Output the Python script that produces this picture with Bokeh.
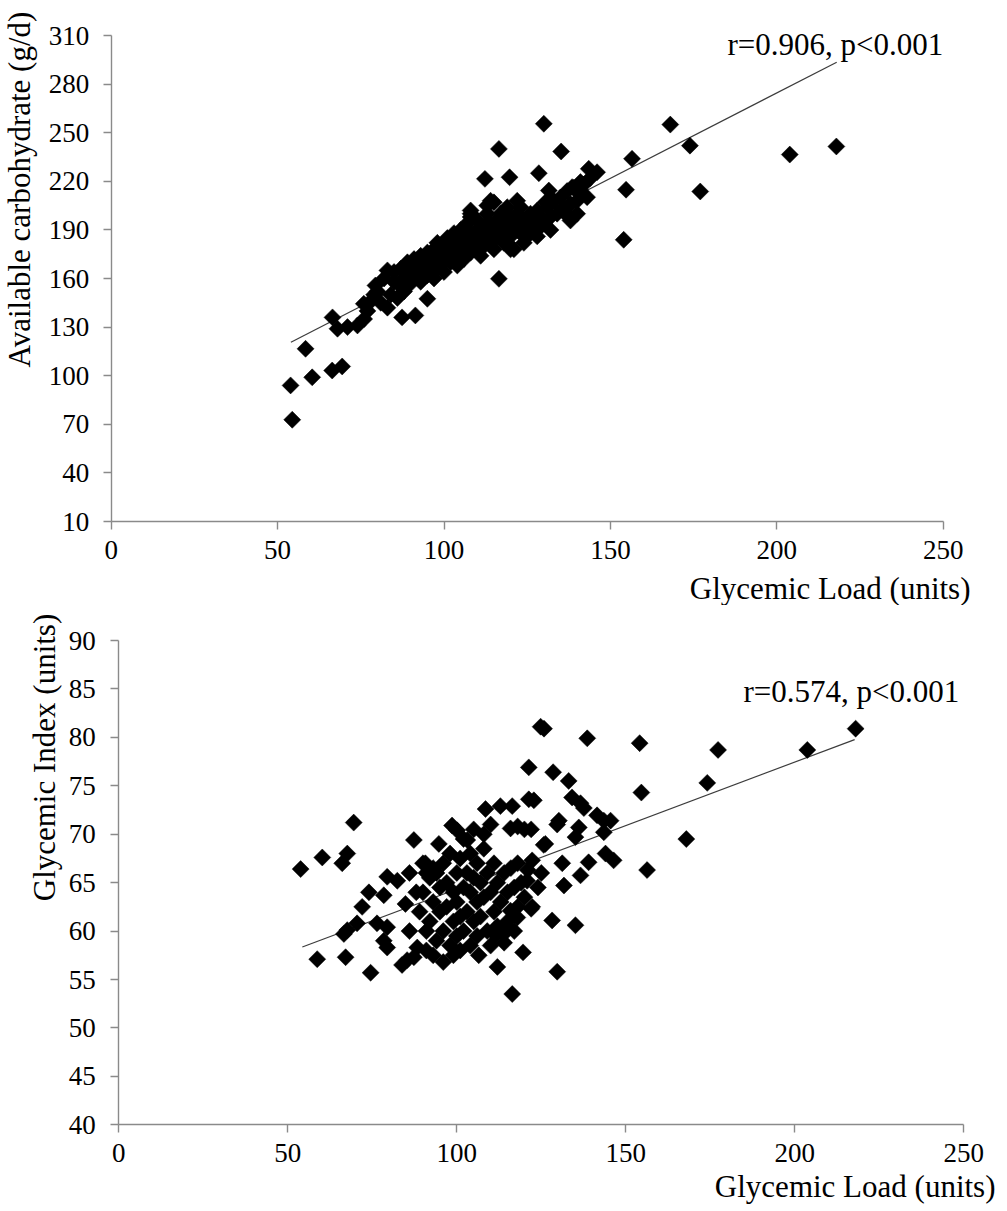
import math
from bokeh.plotting import figure
from bokeh.layouts import column
from bokeh.models import Label, FixedTicker, Range1d
from bokeh.embed import file_html
from bokeh.resources import INLINE

# ---------------- data: top panel (Glycemic load vs available carbohydrate)
gl_top = [54.4, 53.9, 60.4, 58.4, 66.4, 69.4, 66.5, 68.0, 71.0, 74.0, 76.0, 75.9, 79.4, 83.0, 87.4, 91.4, 95.0,
          77, 78, 79, 80, 81, 82, 83, 84, 85, 85, 86, 87, 87, 88, 88, 89, 89, 90, 90, 91, 91, 92, 92, 93, 93,
          94, 94, 95, 95, 96, 96, 97, 97, 98, 98, 98, 99, 99, 100, 100, 100, 101, 101, 102, 102, 103, 103,
          104, 104, 104, 105, 105, 106, 106, 106, 107, 107, 108, 108, 108, 109, 109, 110, 110, 110, 111, 111,
          112, 112, 113, 113, 114, 114, 115, 115, 116, 116, 117, 117, 118, 118, 119, 119, 120, 120, 121, 121,
          122, 122, 123, 124, 124, 125, 126, 126, 127, 128, 128, 129, 130, 131, 132, 133, 134, 135, 136, 137,
          138, 139, 140, 141, 142, 144, 140, 120, 124, 128, 132, 113, 115, 108,
          130.0, 116.5, 135.2, 156.5, 143.5, 146.0, 112.3, 119.7, 128.5, 154.7, 154.0, 116.5, 131.5, 143.0,
          138.0, 108.0, 114.0, 122.0, 168.0, 173.9, 203.9, 217.9, 177.0, 130.5, 138.5, 141.0, 136.5]
carb = [72.8, 94.0, 99.0, 116.6, 103.2, 105.7, 136.0, 129.0, 130.0, 131.0, 135.0, 144.4, 155.7, 142.0, 136.0, 137.2, 147.5,
        140, 146, 150, 152, 145, 160, 165, 150, 158, 164, 148, 155, 166, 160, 152, 163, 170, 157, 166, 160, 172, 163, 168, 158, 174,
        165, 170, 162, 176, 168, 173, 160, 178, 166, 171, 182, 175, 168, 172, 179, 164, 176, 185, 170, 180, 174, 188,
        178, 183, 168, 176, 190, 180, 186, 172, 182, 194, 176, 188, 200, 184, 178, 190, 182, 196, 186, 174,
        192, 180, 188, 200, 184, 194, 190, 178, 196, 186, 200, 192, 182, 196, 190, 204, 186, 198, 194, 178,
        200, 190, 204, 186, 196, 192, 200, 188, 196, 202, 190, 198, 194, 204, 198, 208, 200, 210, 204, 214,
        206, 216, 208, 212, 218, 222, 200, 178, 182, 186, 190, 205, 207, 198,
        255.5, 240.0, 238.4, 233.9, 227.7, 225.6, 221.5, 222.5, 225.0, 214.8, 183.9, 159.8, 214.3, 210.2,
        195.8, 202.0, 208.0, 208.0, 255.0, 242.0, 236.5, 241.5, 213.7, 207.0, 216.4, 219.5, 200.0]
trend_top_x = [54.0, 218.0]
trend_top_y = [120.7, 293.5]

# ---------------- data: bottom panel (Glycemic load vs glycemic index)
gl_bot = [218.0, 203.7, 177.3, 174.1, 167.9, 156.3, 154.1, 154.6, 138.6, 124.8, 125.8, 121.3, 128.5, 133.1,
          121.3, 122.8, 134.1, 136.6, 137.6, 141.5, 143.5, 145.5, 143.5, 130.2, 129.7, 136.1, 135.1, 126.2,
          125.7, 122.3, 131.2, 139.0, 136.6, 131.7, 144.0, 146.4, 135.1, 128.2, 129.7, 119.6, 116.4, 112.0,
          106.5,
          53.8, 60.2, 66.1, 67.6, 69.5, 58.7, 67.1, 74.5, 66.6, 67.6, 70.5, 72.0, 74.0, 76.4, 78.4, 79.4,
          82.4, 79.4, 78.4, 79.4, 84.8, 83.8, 85.3, 87.3, 88.3, 87.3, 94.7, 98.6, 100.1, 103.1, 108.5, 112.9,
          116.4, 90.7, 91.0, 93.0,
          89, 90, 90, 91, 92, 92, 93, 94, 94, 95, 95, 96, 96, 97, 97, 98, 98, 99, 99, 100, 100, 100, 101, 101,
          102, 102, 103, 103, 104, 104, 104, 105, 105, 106, 106, 106, 107, 107, 108, 108, 109, 109, 110, 110,
          111, 111, 112, 112, 113, 114, 114, 115, 115, 116, 117, 117, 118, 118, 119, 120, 120, 121, 120.8,
          122, 124, 125, 118, 115.9, 122, 114.9, 113.9, 111.5, 117.9, 115.9, 122.3, 86, 88, 86, 91, 93, 96,
          99, 101, 102, 105, 108, 110]
gi = [80.9, 78.7, 78.7, 75.3, 69.5, 66.3, 79.4, 74.3, 79.9, 81.1, 80.9, 76.9, 76.4, 75.5,
      73.6, 73.5, 73.8, 73.2, 72.7, 71.95, 71.4, 71.4, 70.2, 71.4, 71.0, 70.7, 69.7, 69.0,
      68.9, 67.3, 67.0, 67.1, 65.75, 64.7, 68.0, 67.3, 60.6, 61.1, 55.8, 57.8, 53.5, 56.3,
      57.5,
      66.4, 67.6, 67.0, 68.0, 71.2, 57.1, 57.3, 55.7, 59.7, 60.1, 60.8, 62.5, 64.0, 60.8, 63.7, 65.6,
      65.2, 60.4, 59.0, 58.3, 62.8, 56.5, 57.0, 57.3, 58.3, 69.4, 69.0, 70.9, 70.4, 69.4, 72.6, 72.9,
      72.9, 67.0, 66.0, 66.5,
      62, 67, 64, 60, 65.5, 61, 63, 66, 59, 62, 64.5, 67, 60, 65, 62.5, 58.5, 68, 64, 61, 66, 59.5, 63, 67.5, 61.5,
      64.5, 60, 66, 62, 58.5, 64, 68, 61, 65.5, 63, 67, 59.5, 65, 61.5, 68.5, 63.5, 60, 66, 64, 58.5,
      62, 67, 65, 60.5, 63, 66, 58.8, 64, 61, 66.5, 60, 64.5, 62.5, 67, 65, 63.5, 70.5, 66.3, 65.2,
      62.3, 64.5, 66, 70.8, 70.6, 70.5, 60.4, 59.7, 59.6, 61.4, 62.1, 62.5, 66, 64, 60, 58, 57.5, 56.8,
      57.5, 58, 69.5, 70.5, 70, 71]
trend_bot_x = [54.3, 217.7]
trend_bot_y = [58.35, 79.77]

x_ticks = [0, 50, 100, 150, 200, 250]
top_y_ticks = [10, 40, 70, 100, 130, 160, 190, 220, 250, 280, 310]
bot_y_ticks = [40, 45, 50, 55, 60, 65, 70, 75, 80, 85, 90]

FONT = "Liberation Serif"
AXIS_COLOR = "#8a8a8a"
PAGE_LEFT = 0          # Bokeh's standalone template puts the canvas at the page corner
FIG_W = 1000
TEXT_SHIFT = 9.5       # the label anchor sits this far above/left of the drawn baseline


class Panel:
    """Maps page-pixel anchors onto data ranges so the frame fills the canvas."""

    def __init__(self, page_top, height, px_x0, px_x1, xv0, xv1, px_ytop, px_ybot, yvtop, yvbot):
        self.sx = (px_x1 - px_x0) / (xv1 - xv0)
        self.sy = (px_ybot - px_ytop) / (yvtop - yvbot)
        self.px_x0, self.xv0 = px_x0, xv0
        self.px_ybot, self.yvbot = px_ybot, yvbot
        self.xr = (self.dx(PAGE_LEFT), self.dx(PAGE_LEFT + FIG_W))
        self.yr = (self.dy(page_top + height), self.dy(page_top))
        self.height = height

    def dx(self, px):
        return self.xv0 + (px - self.px_x0) / self.sx

    def dy(self, py):
        return self.yvbot + (self.px_ybot - py) / self.sy


def build(panel, yticks, xloc, yloc, ybounds, ystandoff):
    p = figure(width=FIG_W, height=panel.height, output_backend="svg", toolbar_location=None,
               x_range=Range1d(*panel.xr), y_range=Range1d(*panel.yr),
               min_border_left=0, min_border_right=0, min_border_top=0, min_border_bottom=0)
    p.xaxis.ticker = FixedTicker(ticks=x_ticks)
    p.yaxis.ticker = FixedTicker(ticks=yticks)
    p.xaxis.fixed_location = xloc
    p.yaxis.fixed_location = yloc
    p.xaxis.bounds = (0, 250)
    p.yaxis.bounds = ybounds
    for ax in (p.xaxis[0], p.yaxis[0]):
        ax.axis_line_color = AXIS_COLOR
        ax.axis_line_width = 1.4
        ax.major_tick_line_color = AXIS_COLOR
        ax.major_tick_line_width = 1.4
        ax.major_tick_out = 8
        ax.major_tick_in = 0
        ax.minor_tick_line_color = None
        ax.major_label_text_font = FONT
        ax.major_label_text_font_size = "27px"
        ax.major_label_text_color = "black"
    p.yaxis.major_label_standoff = ystandoff
    p.xaxis.major_label_standoff = 11
    p.xgrid.grid_line_color = None
    p.ygrid.grid_line_color = None
    p.outline_line_color = None
    p.background_fill_color = "white"
    p.border_fill_color = "white"
    return p


def text(p, panel, px, py, s, align="left", angle=0.0):
    p.add_layout(Label(x=panel.dx(px), y=panel.dy(py), text=s, text_font=FONT,
                       text_font_size="31px", text_align=align, text_baseline="alphabetic",
                       angle=angle, text_color="black"))


# ---------------- top figure
top = Panel(page_top=0, height=605, px_x0=110.7, px_x1=942.7, xv0=0, xv1=250,
            px_ytop=35, px_ybot=521, yvtop=310, yvbot=10)
p1 = build(top, top_y_ticks, xloc=10, yloc=0, ybounds=(10, 310), ystandoff=14)
p1.line(trend_top_x, trend_top_y, line_color="#3c3c3c", line_width=1.2)
p1.scatter(gl_top, carb, marker="square", angle=math.pi / 4, size=12,
           fill_color="black", line_color="black", line_width=0.5)
text(p1, top, 727, 53 - TEXT_SHIFT, "r=0.906, p<0.001")
text(p1, top, 970, 597 - TEXT_SHIFT, "Glycemic Load (units)", align="right")
text(p1, top, 28 - TEXT_SHIFT, 189, "Available carbohydrate (g/d)", align="center", angle=math.pi / 2)

# ---------------- bottom figure
bot = Panel(page_top=605, height=604, px_x0=118.3, px_x1=963.3, xv0=0, xv1=250,
            px_ytop=640, px_ybot=1124.3, yvtop=90, yvbot=40)
p2 = build(bot, bot_y_ticks, xloc=40, yloc=0, ybounds=(40, 90), ystandoff=15)
p2.line(trend_bot_x, trend_bot_y, line_color="#3c3c3c", line_width=1.2)
p2.scatter(gl_bot, gi, marker="square", angle=math.pi / 4, size=12,
           fill_color="black", line_color="black", line_width=0.5)
text(p2, bot, 743, 700 - TEXT_SHIFT, "r=0.574, p<0.001")
text(p2, bot, 995, 1195 - TEXT_SHIFT, "Glycemic Load (units)", align="right")
text(p2, bot, 53 - TEXT_SHIFT, 757, "Glycemic Index (units)", align="center", angle=math.pi / 2)

layout = column(p1, p2, spacing=0)
open("out.html", "w").write(file_html(layout, INLINE))
